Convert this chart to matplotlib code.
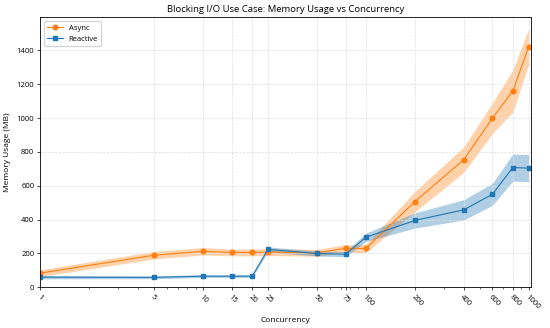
import numpy as np
import matplotlib.pyplot as plt
from matplotlib.ticker import LogLocator, NullFormatter

plt.rcParams['font.family'] = ['Open Sans', 'DejaVu Sans']

concurrency = [1, 5, 10, 15, 20, 25, 50, 75, 100, 200, 400, 600, 800, 1000]
async_mem = [84, 190, 213, 206, 206, 208, 204, 230, 230, 506, 755, 1000, 1160, 1421]
async_std = [20, 22, 22, 20, 20, 20, 20, 22, 25, 60, 75, 90, 125, 105]
reactive_mem = [60, 59, 66, 66, 66, 224, 200, 196, 296, 395, 458, 550, 708, 704]
reactive_std = [10, 8, 8, 8, 8, 15, 15, 15, 25, 45, 60, 65, 80, 80]
tick_labels = ['1', '5', '10', '15', '20', '25', '50', '75', '100', '200', '400', '600', '800', '1000']

x = np.array(concurrency)
a = np.array(async_mem)
a_s = np.array(async_std)
r = np.array(reactive_mem)
r_s = np.array(reactive_std)

fig, ax = plt.subplots(figsize=(5.5, 3.28), dpi=100)

orange = '#ff7f0e'
blue = '#1f77b4'

ax.plot(x, a, marker='o', color=orange, lw=0.8, markersize=3.3, label='Async')
ax.fill_between(x, a - a_s, a + a_s, color=orange, alpha=0.35, lw=0)
ax.plot(x, r, marker='s', color=blue, lw=0.8, markersize=3.3, label='Reactive')
ax.fill_between(x, r - r_s, r + r_s, color=blue, alpha=0.35, lw=0)

ax.set_xscale('log')
ax.set_xticks(concurrency)
ax.set_xticklabels(tick_labels, rotation=-45, ha='left', rotation_mode='anchor', fontsize=5.5)
ax.xaxis.set_minor_locator(LogLocator(base=10, subs=np.arange(2, 10), numticks=20))
ax.xaxis.set_minor_formatter(NullFormatter())
ax.set_xlim(1, 1031)
ax.set_ylim(0, 1595)
ax.tick_params(axis='y', labelsize=5.5)
ax.tick_params(which='major', length=2.5, width=0.5, pad=2)
ax.tick_params(which='minor', length=1.5, width=0.4)
for s in ax.spines.values():
    s.set_linewidth(0.6)

ax.grid(True, which='major', linestyle='--', color='#dddddd', linewidth=0.5)
ax.set_xlabel('Concurrency', fontsize=6)
ax.set_ylabel('Memory Usage (MB)', fontsize=6)
ax.set_title('Blocking I/O Use Case: Memory Usage vs Concurrency', fontsize=6.8, pad=4)
ax.legend(loc='upper left', fontsize=5.5)

plt.subplots_adjust(left=0.0736, right=0.965, top=0.947, bottom=0.124)
plt.savefig('out.png', dpi=100)
